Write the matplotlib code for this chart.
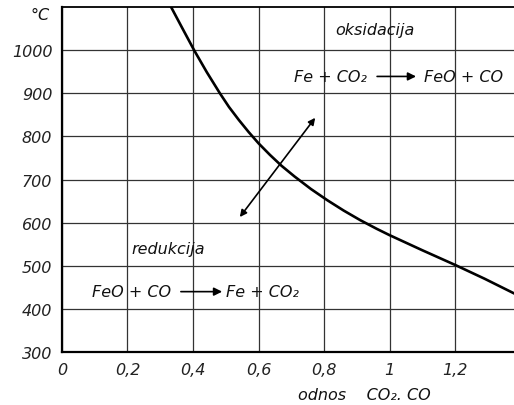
import matplotlib
matplotlib.use('Agg')
import matplotlib.pyplot as plt

# ravnotezna kriva FeO/Fe
odnos = [0.333, 0.368, 0.404, 0.442, 0.482, 0.51, 0.54, 0.57, 0.60, 0.635,
         0.67, 0.71, 0.76, 0.81, 0.86, 0.91, 0.96, 1.0, 1.1, 1.2, 1.29, 1.38]
temp = [1100, 1050, 999, 949, 900, 868, 838, 810, 784, 757,
        732, 707, 678, 652, 628, 606, 586, 571, 536, 502, 470, 436]

x_ticks = [0, 0.2, 0.4, 0.6, 0.8, 1.0, 1.2]
x_labels = ['0', '0,2', '0,4', '0,6', '0,8', '1', '1,2']
y_ticks = [300, 400, 500, 600, 700, 800, 900, 1000]

font = dict(family='DejaVu Sans', style='italic')

fig = plt.figure(figsize=(5.14, 4.06), dpi=100)
ax = fig.add_axes([0.1206, 0.1305, 0.8794, 0.8498])

ax.plot(odnos, temp, color='black', lw=1.9, solid_joinstyle='round')
ax.set_xlim(0, 1.38)
ax.set_ylim(300, 1100)

ax.set_xticks(x_ticks)
ax.set_xticklabels(x_labels, **font, fontsize=11.5)
ax.set_yticks(y_ticks)
ax.set_yticklabels([str(v) for v in y_ticks], **font, fontsize=11.5)
ax.tick_params(length=0, pad=7, colors='#222222')
ax.grid(True, color='#333333', lw=0.9)
ax.set_axisbelow(True)

for s in ['left', 'bottom']:
    ax.spines[s].set_linewidth(1.6)
ax.spines['top'].set_linewidth(1.3)
ax.spines['right'].set_visible(False)

# dvostruka strelica
ax.annotate('', xy=(0.773, 843), xytext=(0.543, 613),
            arrowprops=dict(arrowstyle='<|-|>', color='black', lw=1.2,
                            mutation_scale=10, shrinkA=0, shrinkB=0))

txt = dict(**font, fontsize=11.5, color='#111111')
ax.text(0.956, 1047, 'oksidacija', ha='center', va='center', **txt)
ax.text(0.931, 939, 'Fe + CO₂', ha='right', va='center', **txt)
ax.annotate('', xy=(1.081, 939), xytext=(0.962, 939),
            arrowprops=dict(arrowstyle='-|>', color='black', lw=1.2,
                            mutation_scale=12, shrinkA=0, shrinkB=0))
ax.text(1.105, 939, 'FeO + CO', ha='left', va='center', **txt)

ax.text(0.324, 541, 'redukcija', ha='center', va='center', **txt)
ax.text(0.333, 440, 'FeO + CO', ha='right', va='center', **txt)
ax.annotate('', xy=(0.489, 440), xytext=(0.363, 440),
            arrowprops=dict(arrowstyle='-|>', color='black', lw=1.2,
                            mutation_scale=12, shrinkA=0, shrinkB=0))
ax.text(0.50, 440, 'Fe + CO₂', ha='left', va='center', **txt)

ax.text(0.67, -0.122, 'odnos    CO₂. CO', transform=ax.transAxes,
        ha='center', va='center', **txt)
fig.text(0.078, 0.961, '°C', ha='center', va='center', **txt)

fig.savefig('out.png', dpi=100)
